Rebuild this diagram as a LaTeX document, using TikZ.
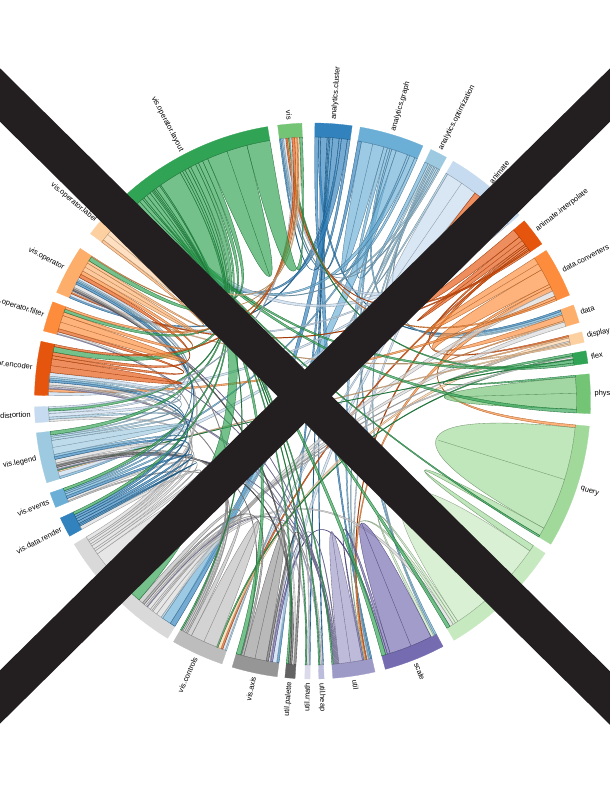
\documentclass[tikz,border=0pt]{standalone}
\usepackage{fontspec}
\setmainfont{Liberation Sans}
\usetikzlibrary{calc}

\definecolor{blueA}{HTML}{3182BD}
\definecolor{blueB}{HTML}{6BAED6}
\definecolor{blueC}{HTML}{9ECAE1}
\definecolor{blueD}{HTML}{C6DBEF}
\definecolor{orangeA}{HTML}{E6550D}
\definecolor{orangeB}{HTML}{FD8D3C}
\definecolor{orangeC}{HTML}{FDAE6B}
\definecolor{orangeD}{HTML}{FDD0A2}
\definecolor{greenA}{HTML}{31A354}
\definecolor{greenB}{HTML}{74C476}
\definecolor{greenC}{HTML}{A1D99B}
\definecolor{greenD}{HTML}{C7E9C0}
\definecolor{purpleA}{HTML}{756BB1}
\definecolor{purpleB}{HTML}{9E9AC8}
\definecolor{purpleC}{HTML}{BCBDDC}
\definecolor{purpleD}{HTML}{DADAEB}
\definecolor{greyA}{HTML}{636363}
\definecolor{greyB}{HTML}{969696}
\definecolor{greyC}{HTML}{BDBDBD}
\definecolor{greyD}{HTML}{D9D9D9}
\definecolor{crossink}{HTML}{231F20}

\newcommand\rin{264}
\newcommand\rout{278}
\newcommand\pull{0.6667}

\tikzset{
  band/.style={fill=#1, draw=#1, line width=0.3},
  ribbon/.style={fill=#1, fill opacity=0.67, draw=#1!70!black, line width=0.35},
  lbl/.style={font=\fontsize{7.5}{9}\selectfont, inner sep=0pt, text=black},
  cross/.style={draw=crossink, line width=38}
}

% one ribbon: group, width there, group, width there, colour
\newcommand\rib[5]{%
  \edef\ribA{\csname cur#1\endcsname}%
  \pgfmathsetmacro\ribB{\ribA+#2}%
  \expandafter\xdef\csname cur#1\endcsname{\ribB}%
  \edef\ribC{\csname cur#3\endcsname}%
  \pgfmathsetmacro\ribD{\ribC+#4}%
  \expandafter\xdef\csname cur#3\endcsname{\ribD}%
  \draw[ribbon=#5] (\ribA:\rin) arc[start angle=\ribA, end angle=\ribB, radius=\rin]
    .. controls ($(\ribB:\rin)!\pull!(O)$) and ($(\ribC:\rin)!\pull!(O)$) .. (\ribC:\rin)
    arc[start angle=\ribC, end angle=\ribD, radius=\rin]
    .. controls ($(\ribD:\rin)!\pull!(O)$) and ($(\ribA:\rin)!\pull!(O)$) .. (\ribA:\rin) -- cycle;
}

\begin{document}
\begin{tikzpicture}[x=1pt, y=1pt, yscale=-1]
  \useasboundingbox (0,0) rectangle (610,790);
  \clip (0,0) rectangle (610,790);

  \begin{scope}[shift={(312.5,401)}]
    \coordinate (O) at (0,0);

    % groups (angles clockwise from the top)
    \foreach \key/\from/\to/\col in {
      acl/0.5/8.2/blueA, agr/9.9/23.4/blueB, aop/25.2/28.8/blueC, ani/30.4/48/blueD,
      ain/49.6/55.6/orangeA, dco/57.2/67.6/orangeB, dat/69.8/73.6/orangeC, dsp/75.6/77.8/orangeD,
      flx/79.6/82.2/greenA, phy/84.4/92.6/greenB, qry/95.2/121/greenC, qme/123.2/149.4/greenD,
      scl/152/164.8/purpleA, utl/167/175.8/purpleB, uhp/177.6/178.7/purpleC, umt/180.5/181.6/purpleD,
      upl/183.6/185.7/greyA, vax/187.3/196.8/greyB, vct/199/210/greyC, vdt/211.4/239/greyD,
      vdr/240.9/245.1/blueA, vev/247.5/250.7/blueB, vlg/252.9/263.4/blueC, vdi/265.5/268.8/blueD,
      ven/271.2/282.4/orangeA, vfi/284.6/290.9/orangeB, vop/293/303.3/orangeC, vlb/307/312.5/orangeD,
      vly/314/350.7/greenA, vis/352.8/357.8/greenB} {
      \pgfmathsetmacro\ga{\from-90}
      \pgfmathsetmacro\gb{\to-90}
      \pgfmathsetmacro\gm{(\from+\to)/2}
      \expandafter\xdef\csname cur\key\endcsname{\ga}
      \expandafter\xdef\csname mid\key\endcsname{\gm}
      \path[band=\col] (\ga:\rin) arc[start angle=\ga, end angle=\gb, radius=\rin]
        -- (\gb:\rout) arc[start angle=\gb, end angle=\ga, radius=\rout] -- cycle;
    }

    % ribbons
    \foreach \gi/\wi/\gj/\wj/\col in {
      acl/0.8/agr/0.8/blueA, acl/0.5/dat/0.4/blueA, acl/1.4/utl/0.3/blueA, acl/0.3/uhp/0.2/blueA,
      acl/0.3/umt/0.2/blueA, acl/0.6/vax/0.5/blueA, acl/1.4/vdt/1.2/blueA, acl/0.5/vop/0.4/blueA,
      acl/1.3/vly/1.3/blueA, acl/0.6/vis/0.3/blueA,
      agr/2.5/agr/2.5/blueB, agr/0.8/aop/0.8/blueB, agr/0.6/dat/0.5/blueB, agr/0.4/scl/0.4/blueB,
      agr/1.0/utl/0.3/blueB, agr/2.6/vdt/2.0/blueB, agr/0.5/vlg/0.5/blueB, agr/1.2/vly/1.2/blueB,
      agr/0.6/vis/0.3/blueB,
      aop/0.4/ani/0.4/blueC, aop/0.3/dat/0.3/blueC, aop/0.3/scl/0.3/blueC, aop/0.4/utl/0.2/blueC,
      aop/0.3/vct/0.3/blueC, aop/0.4/vdt/0.4/blueC, aop/0.4/vly/0.4/blueC, aop/0.3/vis/0.3/blueC,
      ani/3.6/ani/3.6/blueD, ani/1.6/ain/2.0/orangeA, ani/0.8/utl/0.3/blueD, ani/1.0/vax/0.9/blueD,
      ani/0.6/vct/0.6/blueD, ani/1.0/vlg/1.0/blueD, ani/0.8/ven/0.8/blueD, ani/0.6/vop/0.6/blueD,
      ani/1.5/vly/1.5/blueD, ani/2.0/vis/0.5/blueD,
      ain/1.0/ain/1.0/orangeA, ain/0.4/dsp/0.3/orangeA, ain/0.5/utl/0.2/orangeA, ain/0.4/vct/0.4/orangeA,
      ain/0.3/vop/0.3/orangeA, ain/0.4/vis/0.3/orangeA,
      dco/1.5/dco/1.5/orangeB, dco/3.6/dat/1.3/orangeB, dco/0.6/qry/0.6/orangeB, dco/1.0/utl/0.3/orangeB,
      dco/1.2/vdt/1.2/greyD, dco/0.6/ven/0.6/orangeB, dco/0.4/vis/0.3/orangeB,
      dat/0.3/dsp/0.3/orangeC, dat/1.0/vdt/1.0/greyD,
      dsp/0.7/vct/0.7/orangeD, dsp/0.3/vdt/0.3/greyD, dsp/0.3/vlg/0.3/orangeD, dsp/0.3/vop/0.3/orangeD,
      flx/0.5/phy/0.4/greenA, flx/0.3/vct/0.3/greenA, flx/0.4/vdt/0.4/greyD, flx/0.2/vlg/0.2/greenA,
      flx/0.7/vly/0.7/greenA, flx/0.5/vis/0.3/greenA,
      phy/3.5/phy/3.5/greenB, phy/0.8/vly/0.8/greenA,
      qry/11.5/qry/11.5/greenC, qry/1.8/qme/1.4/greenC, qry/0.4/vly/0.4/greenA,
      qme/11.0/qme/11.0/greenD, qme/0.6/scl/0.6/greenD, qme/0.6/utl/0.2/greenD, qme/0.8/vdt/0.8/greyD,
      qme/0.8/vly/0.8/greenA,
      scl/4.8/scl/4.8/purpleA, scl/0.6/utl/0.3/purpleA, scl/0.4/vax/0.4/purpleA, scl/0.9/vly/0.9/greenA,
      utl/2.6/utl/2.6/purpleB, utl/0.2/vax/0.2/purpleB, utl/0.2/vdt/0.2/purpleB, utl/0.2/vlg/0.2/purpleB,
      utl/0.2/ven/0.2/purpleB, utl/0.2/vfi/0.2/purpleB, utl/0.2/vop/0.2/purpleB, utl/0.3/vly/0.6/greenA,
      uhp/0.3/vdt/0.3/greyD, uhp/0.3/ven/0.3/purpleC, uhp/0.3/vly/0.3/greenA,
      umt/0.3/vax/0.3/purpleD, umt/0.3/vlg/0.3/purpleD, umt/0.3/vly/0.3/greenA,
      upl/0.5/vax/0.5/greyA, upl/0.4/vdt/0.4/greyD, upl/0.4/vlg/0.4/greyA, upl/0.4/vop/0.4/greyA,
      upl/0.4/vly/0.4/greenA,
      vax/2.5/vax/2.5/greyB, vax/0.5/vdt/0.5/greyB, vax/0.2/vlg/0.2/greyB, vax/1.0/vly/1.0/greenA,
      vct/3.0/vct/3.0/greyC, vct/1.0/vdt/1.0/greyC, vct/0.3/vev/0.3/greyC, vct/0.4/vlg/0.4/greyC,
      vct/0.4/ven/0.4/greyC, vct/0.3/vop/0.3/greyC, vct/0.3/vly/0.3/greenA,
      vdt/4.0/vly/5.0/greenA, vdt/4.75/vdt/4.75/greyD, vdt/0.8/vdr/0.8/greyD, vdt/0.5/vev/0.5/greyD,
      vdt/0.8/vlg/0.8/greyD, vdt/0.5/vdi/0.5/greyD, vdt/0.6/ven/0.6/greyD, vdt/0.4/vfi/0.4/greyD,
      vdt/0.8/vop/0.8/greyD,
      vdr/0.3/vdr/0.3/blueA, vdr/0.6/vev/0.6/blueA, vdr/0.6/vlg/0.6/blueA, vdr/0.5/ven/0.5/blueA,
      vdr/0.5/vop/0.5/blueA, vdr/0.6/vly/0.6/greenA,
      vev/0.5/vlg/0.5/blueB, vev/0.4/ven/0.4/blueB, vev/0.3/vop/0.3/blueB, vev/0.6/vly/0.6/greenA,
      vlg/1.55/vlg/1.55/blueC, vlg/0.5/vdi/0.5/blueC, vlg/0.4/ven/0.4/blueC, vlg/0.3/vop/0.3/blueC,
      vlg/0.8/vly/0.8/greenA,
      vdi/0.8/ven/0.8/blueD, vdi/0.5/vop/0.5/blueD, vdi/0.6/vly/0.6/greenA, vdi/0.4/vis/0.4/blueD,
      ven/1.5/ven/1.5/orangeA, ven/0.7/vfi/0.7/orangeA, ven/0.8/vop/0.8/orangeA, ven/1.2/vly/1.2/greenA,
      ven/0.5/vis/0.6/orangeA,
      vfi/1.5/vfi/1.5/orangeB, vfi/0.8/vop/0.8/orangeB, vfi/0.7/vly/0.7/greenA, vfi/0.5/vis/0.5/orangeB,
      vop/1.0/vop/1.0/orangeC, vop/0.6/vlb/0.6/orangeC, vop/1.0/vly/1.0/greenA, vop/0.2/vis/0.2/orangeC,
      vlb/1.5/vlb/1.5/orangeD, vlb/1.2/vly/1.2/greenA, vlb/0.7/vis/0.4/orangeD,
      vly/4.5/vly/4.5/greenA, vly/5.1/vis/0.6/greenA} {
      \rib{\gi}{\wi}{\gj}{\wj}{\col}
    }

    % labels
    \pgfmathsetmacro\lr{\rout+4}
    \foreach \key/\lab in {
      acl/analytics.cluster, agr/analytics.graph, aop/analytics.optimization, ani/animate,
      ain/animate.interpolate, dco/data.converters, dat/data, dsp/display, flx/flex, phy/physics,
      qry/query, scl/scale, utl/util, uhp/util.heap, umt/util.math, upl/util.palette,
      vax/vis.axis, vct/vis.controls, vdr/vis.data.render, vev/vis.events, vlg/vis.legend,
      vdi/vis.operator.distortion, ven/vis.operator.encoder, vfi/vis.operator.filter,
      vop/vis.operator, vlb/vis.operator.label, vly/vis.operator.layout, vis/vis} {
      \pgfmathsetmacro\labmid{\csname mid\key\endcsname}
      \ifdim\labmid pt<180pt
        \def\labanc{west}\pgfmathsetmacro\labrot{90-\labmid}
      \else
        \def\labanc{east}\pgfmathsetmacro\labrot{270-\labmid}
      \fi
      \pgfmathsetmacro\labpos{\labmid-90}
      \node[lbl, anchor=\labanc, rotate=\labrot] (l-\key) at (\labpos:\lr) {\lab};
    }
  \end{scope}

  % the cross
  \draw[cross] (-20,75.2) -- (630,717.8);
  \draw[cross] (-20,716.7) -- (630,75.3);
\end{tikzpicture}
\end{document}
